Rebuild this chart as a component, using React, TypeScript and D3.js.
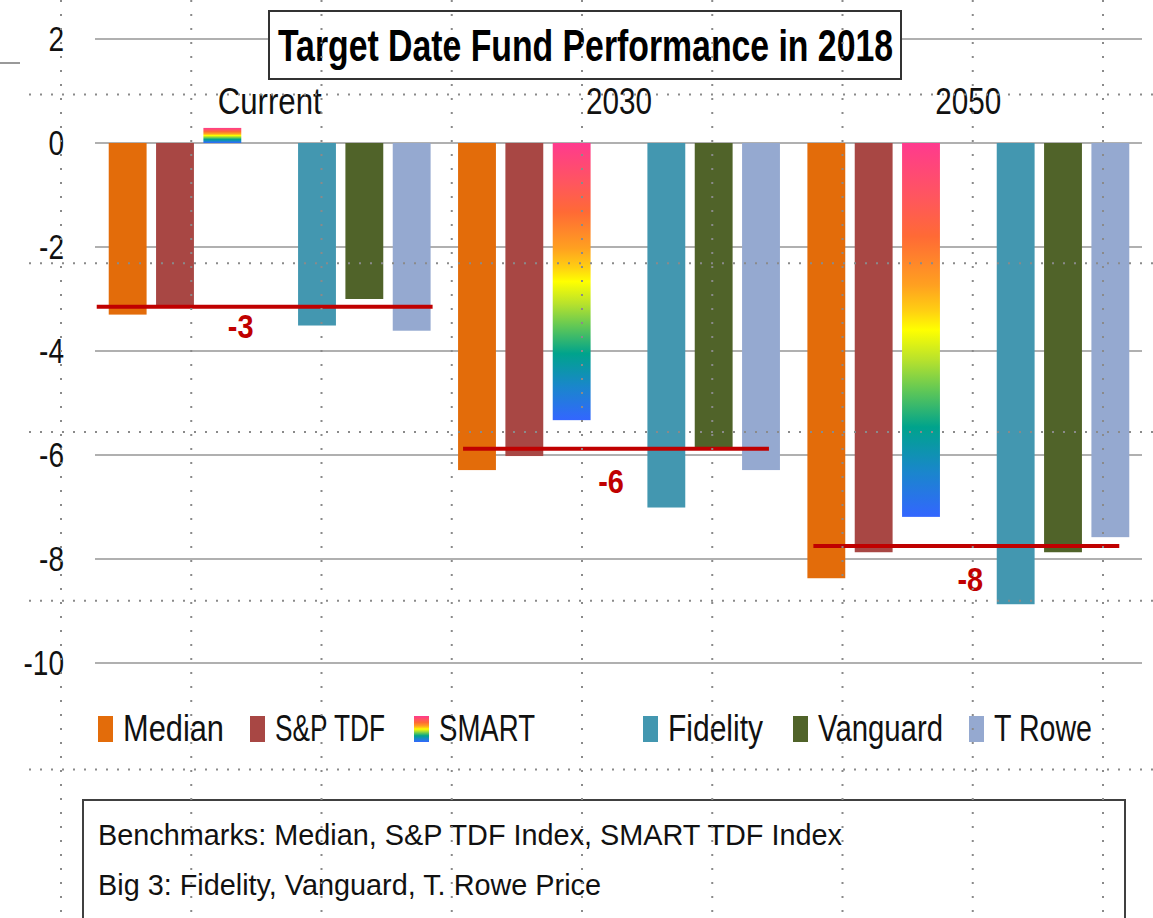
import React from "react";
import * as d3 from "d3";

// categories and series
const groups = ["Current", "2030", "2050"];
const seriesNames = ["Median", "S&P TDF", "SMART", "", "Fidelity", "Vanguard", "T Rowe"];
const seriesColors = ["#e36c0a", "#a84744", "url(#smartGrad)", "none", "#4397b0", "#506329", "#95a9d0"];

// values (% return in 2018)
const median = [-3.3, -6.29, -8.37];
const spTdf = [-3.12, -6.02, -7.87];
const smart = [0.29, -5.33, -7.19];
const blank: number[] = [];
const fidelity = [-3.51, -7.01, -8.87];
const vanguard = [-3.0, -5.85, -7.87];
const tRowe = [-3.61, -6.29, -7.58];
const seriesValues = [median, spTdf, smart, blank, fidelity, vanguard, tRowe];

const average = [-3.15, -5.88, -7.75];
const averageLabels = ["-3", "-6", "-8"];

const yTicks = [2, 0, -2, -4, -6, -8, -10];

const titleText = "Target Date Fund Performance in 2018";
const noteLines = [
  "Benchmarks:  Median, S&P TDF Index, SMART TDF Index",
  "Big 3: Fidelity, Vanguard, T. Rowe Price"
];

const FONT = '"Liberation Sans Narrow", "Arial Narrow", "Liberation Sans", sans-serif';

// layout tweaks (pixels), kept away from the data
const legendX = [98, 250, 414, null, 643, 793, 969];
const legendTextW = [101, 110, 96, 0, 95, 125, 98];
const groupLabelW = [104, 66, 66];
const avgInset = [[-12, 2], [5, -11], [6, -10]];
const labelDx = [-24, -5, 4];
const labelDy = [31, 44, 45];

const smartStops: [number, string][] = [
  [0, "#ff3a8e"],
  [0.14, "#ff5560"],
  [0.25, "#ff6a35"],
  [0.38, "#ffa020"],
  [0.45, "#ffd012"],
  [0.5, "#ffff00"],
  [0.58, "#b8e22c"],
  [0.66, "#62c855"],
  [0.76, "#00a38c"],
  [0.88, "#1a86cc"],
  [1, "#3366ff"]
];

export default function App() {
  const width = 1153;
  const height = 918;

  const y = d3.scaleLinear().domain([2, -10]).range([39, 663]);
  const x0 = d3.scaleBand<string>().domain(groups).range([95, 1143]);
  const x1 = d3
    .scaleBand<number>()
    .domain(d3.range(seriesNames.length))
    .range([0, x0.bandwidth()])
    .paddingInner(0.2)
    .paddingOuter(0.29);

  const vDots = d3.range(9).map(i => 61 + i * 130.25);
  const hDots = d3.range(5).map(i => 94.5 + i * 168.75);

  return (
    <svg
      width={width}
      height={height}
      style={{ position: "absolute", left: 0, top: 0, background: "#fff" }}
      fontFamily={FONT}
    >
      <defs>
        <linearGradient id="smartGrad" x1="0" y1="0" x2="0" y2="1">
          {smartStops.map(([o, c]) => (
            <stop key={o} offset={o} stopColor={c} />
          ))}
        </linearGradient>
      </defs>

      <rect width={width} height={height} fill="#fff" />
      <line x1={0} x2={20} y1={63} y2={63} stroke="#777" strokeWidth={1.5} />

      {/* gridlines + y tick labels */}
      {yTicks.map(t => (
        <g key={t}>
          <line x1={95} x2={1142} y1={y(t)} y2={y(t)} stroke="#b0b0b0" strokeWidth={2} />
          <text
            transform={`translate(64,${y(t) + 12}) scale(0.8,1)`}
            textAnchor="end"
            fontSize={35}
            fill="#111"
          >
            {t}
          </text>
        </g>
      ))}

      {/* bars */}
      {groups.map((g, gi) => (
        <g key={g} transform={`translate(${x0(g)},0)`}>
          {seriesValues.map((vals, si) => {
            const v = vals[gi];
            if (v === undefined) return null;
            return (
              <rect
                key={si}
                x={x1(si)}
                y={Math.min(y(v), y(0))}
                width={x1.bandwidth()}
                height={Math.abs(y(v) - y(0))}
                fill={seriesColors[si]}
              />
            );
          })}
          <text
            x={x0.bandwidth() / 2 - groupLabelW[gi] / 2 + (gi === 0 ? 0 : 0)}
            y={114}
            fontSize={37}
            fill="#111"
            textLength={groupLabelW[gi]}
            lengthAdjust="spacingAndGlyphs"
          >
            {g}
          </text>
        </g>
      ))}

      {/* average lines */}
      {groups.map((g, gi) => {
        const xs = (x0(g) as number) + (x1(0) as number) + avgInset[gi][0];
        const xe = (x0(g) as number) + (x1(6) as number) + x1.bandwidth() + avgInset[gi][1];
        return (
          <g key={g}>
            <line x1={xs} x2={xe} y1={y(average[gi])} y2={y(average[gi])} stroke="#c00000" strokeWidth={4} />
            <text
              transform={`translate(${(xs + xe) / 2 + labelDx[gi]},${y(average[gi]) + labelDy[gi]}) scale(0.85,1)`}
              textAnchor="middle"
              fontSize={34}
              fontWeight="bold"
              fill="#c00000"
            >
              {averageLabels[gi]}
            </text>
          </g>
        );
      })}

      {/* title */}
      <rect x={269} y={11} width={632} height={68} fill="#fff" stroke="#333" strokeWidth={2} />
      <text x={278} y={61} fontSize={45} fontWeight="bold" fill="#000" textLength={615} lengthAdjust="spacingAndGlyphs">
        {titleText}
      </text>

      {/* legend */}
      {seriesNames.map((name, i) => {
        const lx = legendX[i];
        if (!name || lx === null) return null;
        return (
          <g key={name}>
            <rect x={lx} y={716} width={15} height={26} fill={seriesColors[i]} />
            <text
              x={lx + 25}
              y={741}
              fontSize={36}
              fill="#111"
              textLength={legendTextW[i]}
              lengthAdjust="spacingAndGlyphs"
            >
              {name}
            </text>
          </g>
        );
      })}

      {/* note box */}
      <rect x={83} y={800} width={1042} height={130} fill="#fff" stroke="#404040" strokeWidth={2} />
      <text x={98} y={845} fontSize={30} fill="#111" textLength={744} lengthAdjust="spacingAndGlyphs">
        {noteLines[0]}
      </text>
      <text x={98} y={895} fontSize={30} fill="#111" textLength={503} lengthAdjust="spacingAndGlyphs">
        {noteLines[1]}
      </text>

      {/* dotted guide overlay */}
      {vDots.map(vx => (
        <line key={"v" + vx} x1={vx} x2={vx} y1={0} y2={height} stroke="#8a8a8a" strokeWidth={2} strokeDasharray="2 12" />
      ))}
      {hDots.map(hy => (
        <line key={"h" + hy} x1={29} x2={width} y1={hy} y2={hy} stroke="#8a8a8a" strokeWidth={2} strokeDasharray="2 9" />
      ))}
    </svg>
  );
}
